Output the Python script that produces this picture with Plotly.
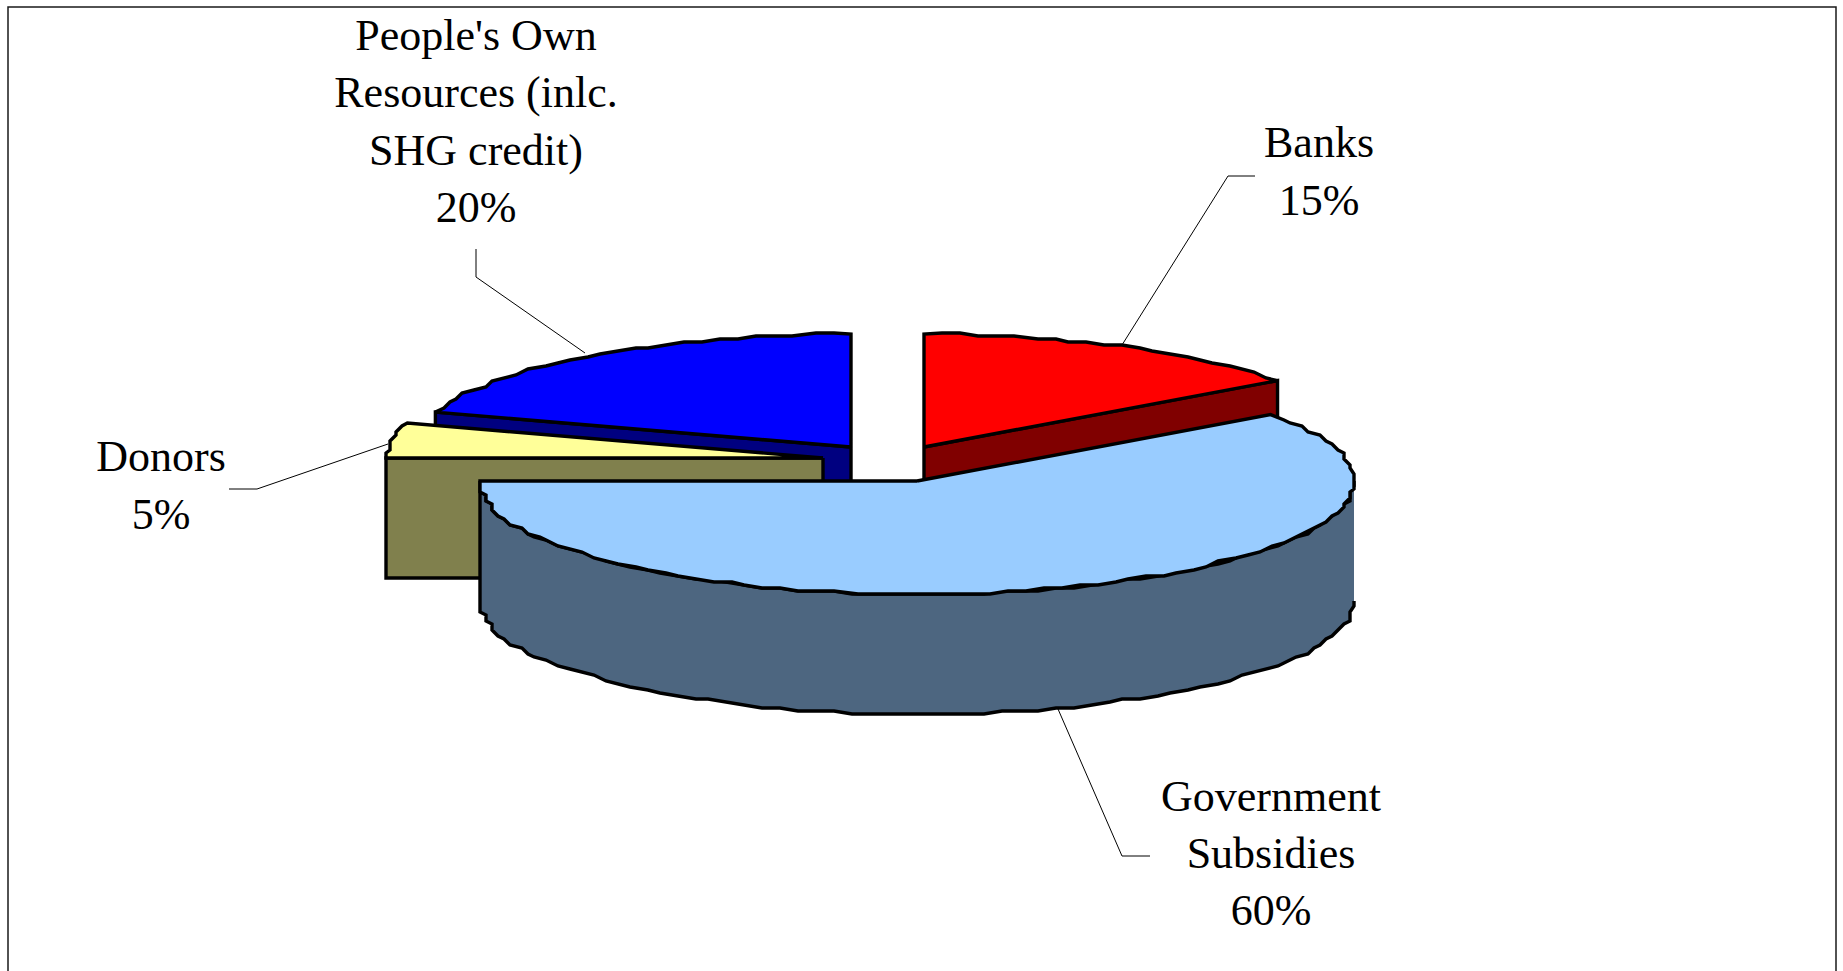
import math
import plotly.graph_objects as go

# --- data ---
categories = ["Banks", "Government<br>Subsidies", "Donors", "People's Own<br>Resources (inlc.<br>SHG credit)"]
values = [15, 60, 5, 20]

# --- styling / layout constants (pixel-unit axes) ---
top_colors = ["#FF0000", "#99CCFF", "#FFFF99", "#0000FF"]
wall_colors = ["#800000", "#4D6680", "#80804D", "#000080"]
apex_x = [924, 917, 823, 851]
apex_y = [447, 481, 458, 447]
label_x = [1319, 1271, 161, 476]
label_y = [175, 857, 489, 125]
leader_x = [[1255, 1228, 1122], [1150, 1122, 1058], [229, 257, 388], [476, 476, 585]]
leader_y = [[176, 176, 345], [856, 856, 709], [489, 489, 444], [249, 277, 353]]
RX, RY, DEPTH = 437, 113, 120
W, H = 1843, 971
GRID_X, GRID_Y = 6, 3
STEP = 2.5


def arc(i, a0, a1):
    n = max(2, int(abs(a1 - a0) / STEP) + 1)
    xs, ys = [], []
    for k in range(n + 1):
        a = math.radians(a0 + (a1 - a0) * k / n)
        x = apex_x[i] + RX * math.sin(a)
        y = apex_y[i] - RY * math.cos(a)
        if 0 < k < n:
            x = round(x / GRID_X) * GRID_X
            y = round(y / GRID_Y) * GRID_Y
            x = min(max(x, apex_x[i] - RX), apex_x[i] + RX)
            y = min(y, apex_y[i] + RY)
        xs.append(x)
        ys.append(y)
    return xs, ys


def rim(i, a):
    r = math.radians(a)
    return apex_x[i] + RX * math.sin(r), apex_y[i] - RY * math.cos(r)


total = sum(values)
angles = [0]
for v in values:
    angles.append(angles[-1] + v / total * 360)

fig = go.Figure()


def poly(xs, ys, color, lw=3.4):
    fig.add_trace(go.Scatter(
        x=xs, y=ys, mode="lines", fill="toself", fillcolor=color,
        line=dict(color="#000000", width=lw, shape="linear"),
        hoverinfo="skip", showlegend=False))


def cut_wall(i, a):
    ax, ay = apex_x[i], apex_y[i]
    rx, ry = rim(i, a)
    poly([ax, rx, rx, ax, ax], [ay, ry, ry + DEPTH, ay + DEPTH, ay], wall_colors[i])


def top(i):
    xs, ys = arc(i, angles[i], angles[i + 1])
    poly([apex_x[i]] + xs + [apex_x[i]], [apex_y[i]] + ys + [apex_y[i]], top_colors[i])


# back to front: People's Own, Banks, Donors, Government
cut_wall(3, angles[3])
top(3)
cut_wall(0, angles[1])
top(0)
cut_wall(2, angles[2])
top(2)

# Government: outer wall then top
xs, ys = arc(1, 90, angles[2])
poly(xs + [x for x in reversed(xs)], ys + [y + DEPTH for y in reversed(ys)], wall_colors[1])
top(1)

# leaders
for lx, ly in zip(leader_x, leader_y):
    fig.add_trace(go.Scatter(x=lx, y=ly, mode="lines",
                             line=dict(color="#000000", width=1),
                             hoverinfo="skip", showlegend=False))

# labels
fig.add_trace(go.Scatter(
    x=label_x, y=label_y, mode="text",
    text=[f"{c}<br>{v}%" for c, v in zip(categories, values)],
    textposition="middle center",
    textfont=dict(family="Liberation Serif", size=44, color="#000000"),
    hoverinfo="skip", showlegend=False))

fig.update_layout(
    width=W, height=H, autosize=False,
    margin=dict(l=0, r=0, t=0, b=0),
    paper_bgcolor="#FFFFFF", plot_bgcolor="#FFFFFF",
    xaxis=dict(range=[0, W], visible=False, fixedrange=True),
    yaxis=dict(range=[H, 0], visible=False, fixedrange=True),
    shapes=[dict(type="rect", xref="x", yref="y", x0=8, y0=7, x1=1836, y1=H + 20,
                 line=dict(color="#1A1A1A", width=1.5), layer="below")],
)
fig.write_html("out.html", config={"displayModeBar": False},
               post_script="document.body.style.margin='0';document.body.style.overflow='hidden';")
